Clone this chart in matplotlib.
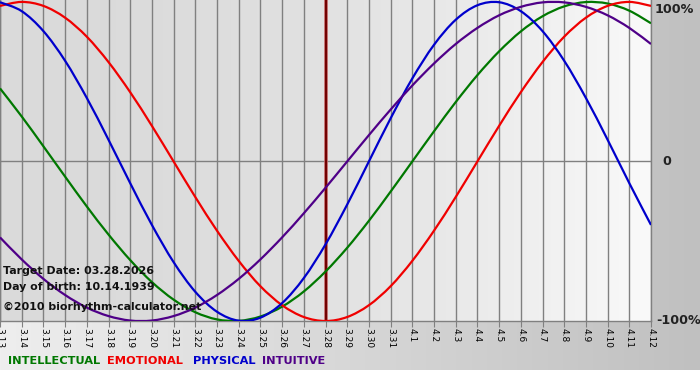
import numpy as np
import matplotlib
matplotlib.use("Agg")
import matplotlib.pyplot as plt
from matplotlib.path import Path
from matplotlib.patches import PathPatch

# ---- data ----
days = ["3.13", "3.14", "3.15", "3.16", "3.17", "3.18", "3.19", "3.20", "3.21", "3.22",
        "3.23", "3.24", "3.25", "3.26", "3.27", "3.28", "3.29", "3.30", "3.31", "4.1",
        "4.2", "4.3", "4.4", "4.5", "4.6", "4.7", "4.8", "4.9", "4.10", "4.11", "4.12"]

physical = [0.998, 0.942, 0.817, 0.631, 0.398, 0.136, -0.136, -0.398, -0.631, -0.817,
            -0.942, -0.998, -0.979, -0.888, -0.731, -0.520, -0.270, 0.0, 0.270, 0.520,
            0.731, 0.888, 0.979, 0.998, 0.942, 0.817, 0.631, 0.398, 0.136, -0.136, -0.398]

emotional = [0.975, 1.0, 0.975, 0.901, 0.782, 0.623, 0.434, 0.223, 0.0, -0.223,
             -0.434, -0.623, -0.782, -0.901, -0.975, -1.0, -0.975, -0.901, -0.782, -0.623,
             -0.434, -0.223, 0.0, 0.223, 0.434, 0.623, 0.782, 0.901, 0.975, 1.0, 0.975]

intellectual = [0.458, 0.282, 0.095, -0.095, -0.282, -0.458, -0.618, -0.756, -0.866, -0.945,
                -0.990, -0.999, -0.972, -0.910, -0.815, -0.690, -0.541, -0.372, -0.189, 0.0,
                0.189, 0.372, 0.541, 0.690, 0.815, 0.910, 0.972, 0.999, 0.990, 0.945, 0.866]

intuitive = [-0.476, -0.614, -0.736, -0.837, -0.916, -0.969, -0.997, -0.997, -0.969, -0.916,
             -0.837, -0.736, -0.614, -0.476, -0.325, -0.165, 0.0, 0.165, 0.325, 0.476,
             0.614, 0.736, 0.837, 0.916, 0.969, 0.997, 0.997, 0.969, 0.916, 0.837, 0.736]

target_label = "3.28"
y_labels = ["100%", "0", "-100%"]
y_values = [1.0, 0.0, -1.0]

series = [("INTELLECTUAL", intellectual, "#007800"),
          ("EMOTIONAL", emotional, "#f00000"),
          ("PHYSICAL", physical, "#0000cc"),
          ("INTUITIVE", intuitive, "#4f0088")]

W, H = 700, 380
fig = plt.figure(figsize=(W / 100, H / 100), dpi=100)

# ---- figure background ----
bg = fig.add_axes([0, 0, 1, 1])
bg.set_axis_off()
xx = np.linspace(0, 1, W)
row = 238 - 46 * xx
img = np.tile(row, (H, 1))
img[370:, :] = 255
img = np.stack([img] * 3, axis=-1) / 255.0
bg.imshow(img, aspect="auto", extent=[0, 1, 0, 1], origin="upper")
bg.set_xlim(0, 1)
bg.set_ylim(0, 1)

# ---- plot area ----
px_l, px_r, px_t, px_b = 0, 651, 0, 321
ax = fig.add_axes([px_l / W, 1 - px_b / H, (px_r - px_l) / W, (px_b - px_t) / H])
x = np.arange(len(days))
ax.set_xlim(0, len(days) - 1)
ax.set_ylim(-1.0, 1.012)

gx = np.linspace(0, 1, 400)
grad = 218 + 32 * gx ** 2
gimg = np.stack([np.tile(grad, (10, 1))] * 3, axis=-1) / 255.0
ax.imshow(gimg, aspect="auto", extent=[0, len(days) - 1, -1.0, 1.012], zorder=0)

for xi in x:
    ax.axvline(xi, color="#808080", lw=1.0, zorder=1)
ax.axhline(0, color="#808080", lw=1.0, zorder=1)

ti = days.index(target_label)
ax.axvline(ti, color="#c06060", lw=2.6, zorder=2)
ax.axvline(ti, color="#700000", lw=1.4, zorder=2)


def smooth_path(xs, ys):
    """Catmull-Rom curve through the data points, rendered as cubic Beziers."""
    xs = np.asarray(xs, float)
    ys = np.asarray(ys, float)
    n = len(xs)
    verts = [(xs[0], ys[0])]
    codes = [Path.MOVETO]
    for i in range(n - 1):
        p0 = np.array([xs[max(i - 1, 0)], ys[max(i - 1, 0)]])
        p1 = np.array([xs[i], ys[i]])
        p2 = np.array([xs[i + 1], ys[i + 1]])
        p3 = np.array([xs[min(i + 2, n - 1)], ys[min(i + 2, n - 1)]])
        c1 = p1 + (p2 - p0) / 6.0
        c2 = p2 - (p3 - p1) / 6.0
        verts += [tuple(c1), tuple(c2), tuple(p2)]
        codes += [Path.CURVE4] * 3
    return Path(verts, codes)


for name, vals, col in series:
    patch = PathPatch(smooth_path(x, vals), facecolor="none", edgecolor=col,
                      lw=1.6, zorder=3, transform=ax.transData)
    ax.add_patch(patch)

ax.set_xticks(x)
ax.set_xticklabels(days, rotation=-90, fontsize=6.5, family="DejaVu Sans")
ax.tick_params(axis="x", length=4, color="#808080", pad=1)
ax.set_yticks([])
for s in ax.spines.values():
    s.set_color("#808080")
    s.set_linewidth(1.0)
ax.spines["top"].set_visible(False)

label_pos = {"100%": (0.955, 655), "0": (0.0, 662), "-100%": (-0.995, 656)}
for lab in y_labels:
    yv, xp = label_pos[lab]
    fig.text(xp / W, (1 - px_b / H) + (yv + 1.0) / 2.012 * (px_b - px_t) / H, lab,
             ha="left", va="center", fontsize=9.2, fontweight="bold", color="#222222")

# info text
info = ["Target Date: 03.28.2026", "Day of birth: 10.14.1939", "©2010 biorhythm-calculator.net"]
info_y = [271, 287, 307]
for t, yp in zip(info, info_y):
    fig.text(3 / W, 1 - yp / H, t, ha="left", va="center", fontsize=7.9,
             fontweight="bold", color="#111111")

# legend
legend_x = [8, 107, 193, 262]
for (name, vals, col), lx in zip(series, legend_x):
    fig.text(lx / W, 1 - 361 / H, name, ha="left", va="center", fontsize=8.2,
             fontweight="bold", color=col)

fig.savefig("out.png", dpi=100)
